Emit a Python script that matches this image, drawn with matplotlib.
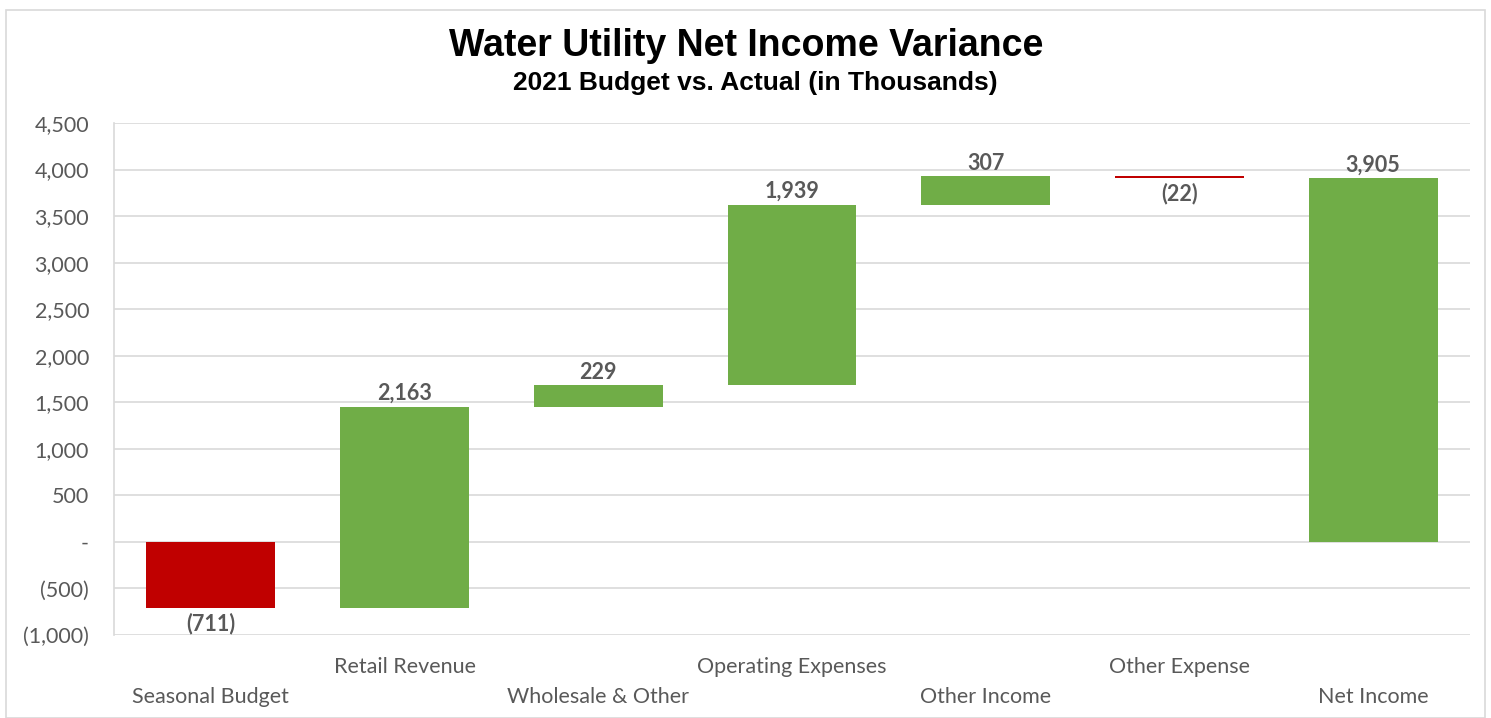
import numpy as np
import matplotlib.pyplot as plt
from matplotlib.patches import Rectangle
from matplotlib.ticker import FuncFormatter

# waterfall data, in thousands
categories = ['Seasonal Budget', 'Retail Revenue', 'Wholesale & Other',
              'Operating Expenses', 'Other Income', 'Other Expense', 'Net Income']
changes = [-711, 2163, 229, 1939, 307, -22]
net_income = 3905

GREEN = '#70AD47'
RED = '#C00000'
GRAY = '#595959'
LABEL_FONT = ['Lato', 'DejaVu Sans']

# running totals give each step's base
values = changes + [net_income]
bottoms = []
total = 0
for v in changes:
    bottoms.append(total if v >= 0 else total + v)
    total += v
bottoms.append(0)
heights = [abs(v) for v in values]
colors = [GREEN if v >= 0 else RED for v in values]

fig = plt.figure(figsize=(14.91, 7.18), dpi=100)
ax = fig.add_axes([114 / 1491, 1 - 635 / 718, 1356 / 1491, 512 / 718])

x = np.arange(len(categories))
ax.bar(x, heights, bottom=bottoms, width=0.665, color=colors, zorder=3)

# data labels: gains above, losses below
for i, v in enumerate(values):
    if v >= 0:
        y = bottoms[i] + heights[i]
        ax.text(x[i], y + 30, f'{v:,}', ha='center', va='bottom',
                fontsize=15.5, fontweight='bold', color=GRAY, family=LABEL_FONT)
    else:
        y = bottoms[i]
        ax.text(x[i], y - 45, f'({-v:,})', ha='center', va='top',
                fontsize=15.5, fontweight='bold', color=GRAY, family=LABEL_FONT)

ax.set_xlim(-0.5, len(categories) - 0.5)
ax.set_ylim(-1000, 4500)
ax.set_yticks(np.arange(-1000, 4501, 500))


def fmt(v, pos):
    if v == 0:
        return '-'
    if v < 0:
        return f'({-v:,.0f})'
    return f'{v:,.0f}'


ax.yaxis.set_major_formatter(FuncFormatter(fmt))
ax.tick_params(axis='y', length=0, pad=18, labelsize=15.5, labelcolor=GRAY)
for lab in ax.get_yticklabels():
    lab.set_family(LABEL_FONT)
ax.grid(axis='y', color='#D9D9D9', linewidth=1.2, zorder=0)
ax.set_xticks([])
for s in ['top', 'right', 'bottom']:
    ax.spines[s].set_visible(False)
ax.spines['left'].set_color('#D9D9D9')
ax.spines['left'].set_linewidth(1.2)

# category names in two staggered rows below the axis
for i, name in enumerate(categories):
    row_y = -(697 - 635) / 512 if i % 2 == 0 else -(667 - 635) / 512
    ax.text(x[i], row_y, name, transform=ax.get_xaxis_transform(),
            ha='center', va='center', fontsize=15.5, color=GRAY, family=LABEL_FONT)

fig.text(746 / 1491, 1 - 46 / 718, 'Water Utility Net Income Variance', ha='center',
         va='center', fontsize=27, fontweight='bold', family='Liberation Sans')
fig.text(755 / 1491, 1 - 83 / 718, '2021 Budget vs. Actual (in Thousands)', ha='center',
         va='center', fontsize=19, fontweight='bold', family='Liberation Sans')

# outer chart frame
fig.patches.append(Rectangle((6 / 1491, 0), 1479 / 1491, 1 - 10 / 718,
                             transform=fig.transFigure, fill=False,
                             edgecolor='#D9D9D9', linewidth=1.2))

fig.savefig('out.png', dpi=100)
